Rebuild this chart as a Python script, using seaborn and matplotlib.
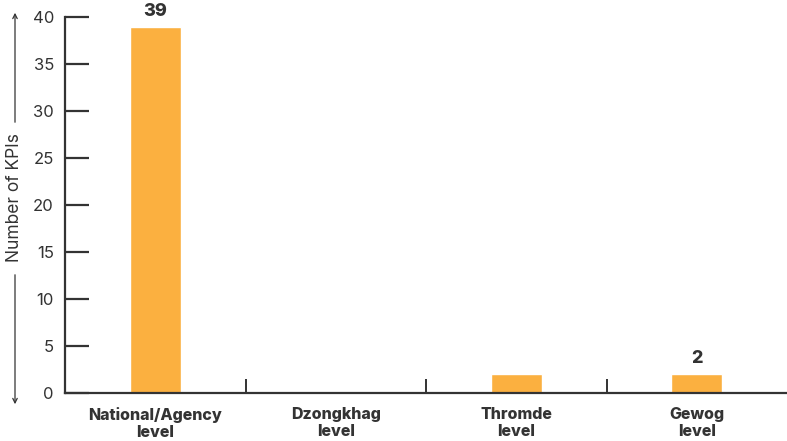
import matplotlib
matplotlib.use("Agg")
import matplotlib.pyplot as plt
import matplotlib.patches as mpatches
import seaborn as sns
import pandas as pd

# KPI counts by level of government
levels = ["National/Agency\nlevel", "Dzongkhag\nlevel", "Thromde\nlevel", "Gewog\nlevel"]
kpi_counts = [39, 0, 2, 2]
shown_labels = ["39", "", "", "2"]
y_ticks = [0, 5, 10, 15, 20, 25, 30, 35, 40]

sns.set_theme(style="white")
plt.rcParams["font.family"] = ["Inter", "DejaVu Sans"]

ink = "#333333"
bar_color = "#FBB040"

df = pd.DataFrame({"level": levels, "count": kpi_counts})

fig = plt.figure(figsize=(7.87, 4.41), dpi=100)
ax = fig.add_axes([0.0826, 0.109, 0.9174, 0.852])

sns.barplot(data=df, x="level", y="count", color=bar_color, width=0.28,
            saturation=1, ax=ax)

ax.set_ylim(0, 40)
ax.set_xlim(-0.5, 3.5)
ax.set_yticks(y_ticks)
ax.set_xlabel("")
ax.set_ylabel("")

for s in ["top", "right"]:
    ax.spines[s].set_visible(False)
for s in ["left", "bottom"]:
    ax.spines[s].set_color(ink)
    ax.spines[s].set_linewidth(1.6)

ax.tick_params(axis="y", left=True, direction="in", length=17, width=1.6, color=ink,
               labelsize=12, labelcolor=ink, pad=8)
ax.tick_params(axis="x", which="major", bottom=False, length=0, labelsize=11.5,
               labelcolor=ink, pad=10)
for lab in ax.get_xticklabels():
    lab.set_fontweight("heavy")

# separators between categories
ax.set_xticks([0.5, 1.5, 2.5], minor=True)
ax.tick_params(axis="x", which="minor", bottom=True, direction="in", length=10,
               width=1.4, color=ink)

# value labels above bars
for i, (v, txt) in enumerate(zip(kpi_counts, shown_labels)):
    if txt:
        ax.annotate(txt, (i, v), xytext=(0, 5), textcoords="offset points",
                    ha="center", va="bottom", fontsize=13, fontweight="heavy", color=ink)

# y axis title with arrows
fig.text(15 / 787, 1 - 198 / 441, "Number of KPIs", rotation=90, ha="center", va="center",
         fontsize=12.5, color=ink)
fig.add_artist(mpatches.FancyArrowPatch(
    (15 / 787, 1 - 125 / 441), (15 / 787, 1 - 10 / 441), transform=fig.transFigure,
    arrowstyle="->", mutation_scale=8, color=ink, lw=0.9))
fig.add_artist(mpatches.FancyArrowPatch(
    (15 / 787, 1 - 272 / 441), (15 / 787, 1 - 407 / 441), transform=fig.transFigure,
    arrowstyle="->", mutation_scale=8, color=ink, lw=0.9))

fig.savefig("out.png", dpi=100)
